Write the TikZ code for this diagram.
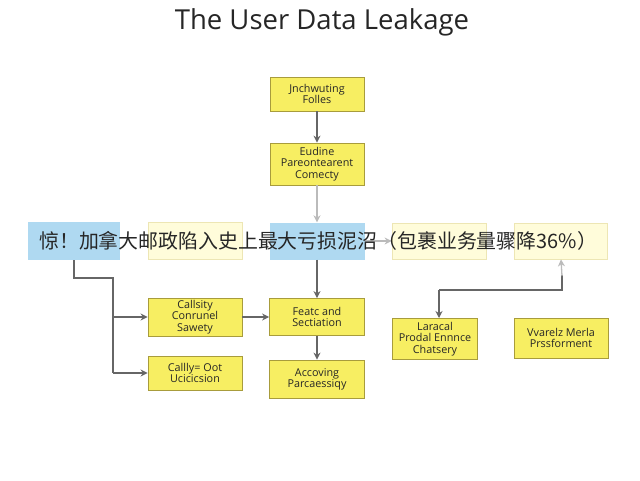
\documentclass[tikz,border=0pt]{standalone}
\usepackage{fontspec}
\setmainfont{Open Sans}
\newfontfamily\cjk{Noto Sans CJK SC}
\usetikzlibrary{arrows.meta}
\definecolor{ybox}{HTML}{F7EE62}
\definecolor{yline}{HTML}{A89C3C}
\definecolor{lybox}{HTML}{FFFCDA}
\definecolor{lyline}{HTML}{EDE6B4}
\definecolor{bbox}{HTML}{AFD9F1}
\definecolor{arr}{HTML}{666666}
\definecolor{farr}{HTML}{BBBBBB}
\tikzset{
  x=1pt,y=-1pt,
  ybx/.style={draw=yline,fill=ybox,line width=0.8pt,align=center,font=\fontsize{10.8}{11.2}\selectfont,text=black!85,inner sep=0pt},
  lybx/.style={draw=lyline,fill=lybox,line width=0.8pt,inner sep=0pt},
  bbx/.style={draw=none,fill=bbox,inner sep=0pt},
  conn/.style={draw=arr,line width=1.3pt,-{Stealth[length=7pt,width=7pt]}},
  fconn/.style={draw=farr,line width=1.3pt,-{Stealth[length=7pt,width=7pt]}},
}
\begin{document}
\begin{tikzpicture}
\path[use as bounding box,fill=white] (0,0) rectangle (640,480);
\node[font=\fontsize{27.5}{30}\selectfont,text=black!85] (title) at (322,22) {The User Data Leakage};
% top column
\node[ybx,minimum width=94pt,minimum height=34pt] (b1) at (317,94) {Jnchwuting\\Folles};
\node[ybx,minimum width=94pt,minimum height=42pt] (b2) at (317,164) {Eudine\\Pareontearent\\Comecty};
% middle row (faded)
\node[bbx,minimum width=92pt,minimum height=38pt] (ma) at (74,241) {};
\node[lybx,minimum width=94pt,minimum height=37pt] (mb) at (195,241) {};
\node[bbx,minimum width=95pt,minimum height=37pt] (mc) at (317,241) {};
\node[lybx,minimum width=94pt,minimum height=36pt] (md) at (439,241) {};
\node[lybx,minimum width=93pt,minimum height=36pt] (me) at (561,241) {};
% bottom
\node[ybx,minimum width=94pt,minimum height=38pt] (c1) at (195,317) {Callsity\\Conrunel\\Sawety};
\node[ybx,minimum width=94pt,minimum height=34pt] (c2) at (195,373) {Callly= Oot\\Ucicicsion};
\node[ybx,minimum width=95pt,minimum height=37pt] (c3) at (317,317) {Featc and\\Sectiation};
\node[ybx,minimum width=95pt,minimum height=38pt] (c4) at (317,379) {Accoving\\Parcaessiqy};
\node[ybx,minimum width=85pt,minimum height=41pt] (c5) at (435,339) {Laracal\\Prodal Ennnce\\Chatsery};
\node[ybx,minimum width=94pt,minimum height=40pt] (c6) at (561,338) {Vvarelz Merla\\Prssforment};
% connectors
\draw[conn] (b1) -- (b2);
\draw[fconn] (b2) -- (mc);
\draw[fconn] (mc) -- (md);
\draw[conn] (mc) -- (c3);
\draw[conn] (c3) -- (c4);
\draw[conn] (c1) -- (c3);
\coordinate (k1) at (74,278);
\coordinate (k2) at (113,278);
\draw[draw=arr,line width=1.3pt] (ma.south) -- (k1) -- (k2) -- (113,373);
\draw[conn] (113,317) -- (c1.west);
\draw[conn] (113,373) -- (c2.west);
\coordinate (r1) at (439,290);
\coordinate (r2) at (562,290);
\draw[conn] (r1) -- (439,318);
\draw[draw=arr,line width=1.3pt] (r1) -- (r2) -- (562,275);
\draw[fconn] (562,276) -- (me.south);
% overlay banner
\node[font=\cjk\fontsize{19.9}{22}\selectfont,text=black!85,anchor=west,inner sep=0pt] (banner) at (39,241) {惊！加拿大邮政陷入史上最大亏损泥沼（包裹业务量骤降36\%）};
\end{tikzpicture}
\end{document}
